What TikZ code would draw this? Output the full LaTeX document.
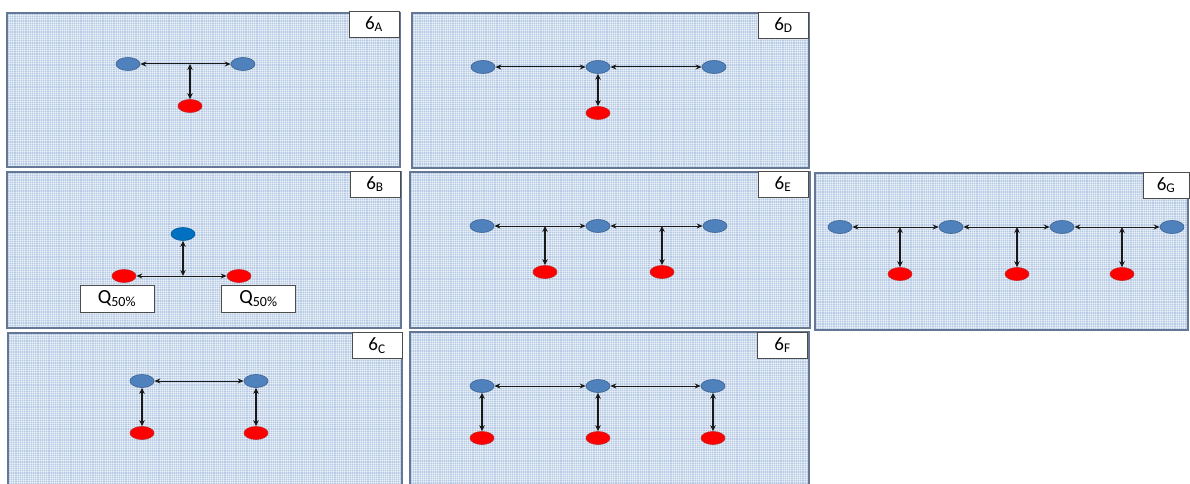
\documentclass[tikz,border=0pt]{standalone}
\usepackage{fontspec}
\setmainfont{Carlito}
\usetikzlibrary{arrows.meta,shapes.geometric}
\definecolor{bgblue}{RGB}{182,202,229}
\definecolor{framec}{RGB}{100,120,150}
\definecolor{nodeblue}{RGB}{79,129,189}
\definecolor{nodeblueb}{RGB}{58,97,144}
\definecolor{nodered}{RGB}{255,0,0}
\definecolor{noderedb}{RGB}{192,40,40}
\definecolor{darkblue}{RGB}{0,112,192}
\tikzset{
  gridtex/.style={draw=white, line width=0.45pt, opacity=0.45},
  bnode/.style={ellipse, minimum width=24pt, minimum height=13pt, inner sep=0pt, fill=nodeblue, draw=nodeblueb, line width=0.6pt},
  rnode/.style={ellipse, minimum width=24pt, minimum height=13pt, inner sep=0pt, fill=nodered, draw=noderedb, line width=0.6pt},
  dnode/.style={ellipse, minimum width=24pt, minimum height=13pt, inner sep=0pt, fill=darkblue, draw=darkblue!80!black, line width=0.6pt},
  lbl/.style={draw=black!70, fill=white, line width=0.8pt, minimum width=50pt, minimum height=26pt, inner sep=0pt, font=\fontsize{19}{19}\selectfont},
  qbox/.style={draw=black!70, fill=white, line width=0.8pt, minimum width=74pt, minimum height=27pt, inner sep=0pt, font=\fontsize{20}{20}\selectfont},
  harrow/.style={{Stealth[length=6pt,width=5pt]}-{Stealth[length=6pt,width=5pt]}, line width=1pt, draw=black!90},
  varrow/.style={{Stealth[length=6pt,width=5.5pt]}-{Stealth[length=6pt,width=5.5pt]}, line width=1.7pt, draw=black!90},
}
\begin{document}
\begin{tikzpicture}[x=1pt,y=-1pt]
\useasboundingbox (0,0) rectangle (1190,484);
\begin{scope}
\clip (0,0) rectangle (1190,484);
% panels
\foreach \xa/\ya/\xb/\yb in {7/13/400/167, 412/13/809/168, 7/172/401/328, 410/172/810/328, 815/173/1188/330, 8/333/402/490, 410/332/809/490}{
  \fill[bgblue] (\xa,\ya) rectangle (\xb,\yb);
  \begin{scope}
    \clip (\xa,\ya) rectangle (\xb,\yb);
    \foreach \gx in {0,2.2,...,400} \draw[gridtex] (\xa+\gx,\ya) -- (\xa+\gx,\yb);
    \foreach \gy in {0,2.2,...,160} \draw[gridtex] (\xa,\ya+\gy) -- (\xb,\ya+\gy);
  \end{scope}
  \draw[draw=framec, line width=1.3pt] (\xa,\ya) rectangle (\xb,\yb);
}
\end{scope}

% ---------- Panel A ----------
\node[lbl] (la) at (374,24) {6\textsubscript{A}};
\node[bnode] (a1) at (128,64) {};
\node[bnode] (a2) at (243,64) {};
\node[rnode] (ar) at (190,106) {};
\coordinate (aj) at (190,64);
\draw[harrow] (a1) -- (a2);
\draw[varrow] (aj) -- (ar);

% ---------- Panel D ----------
\node[lbl] (ld) at (783.5,25) {6\textsubscript{D}};
\node[bnode] (d1) at (483,67) {};
\node[bnode] (d2) at (598,67) {};
\node[bnode] (d3) at (714,67) {};
\node[rnode] (dr) at (598,113) {};
\draw[harrow] (d1) -- (d2);
\draw[harrow] (d2) -- (d3);
\draw[varrow] (d2) -- (dr);

% ---------- Panel B ----------
\node[lbl] (lb) at (375,184) {6\textsubscript{B}};
\node[dnode] (b0) at (183,234) {};
\node[rnode] (b1) at (124,276) {};
\node[rnode] (b2) at (239,276) {};
\coordinate (bj) at (183,276);
\draw[harrow] (b1) -- (b2);
\draw[varrow] (bj) -- (b0);
\node[qbox] (ql) at (117,298.5) {Q\textsubscript{50\%}};
\node[qbox] (qr) at (258.5,298.5) {Q\textsubscript{50\%}};

% ---------- Panel E ----------
\node[lbl] (le) at (783,184) {6\textsubscript{E}};
\node[bnode] (e1) at (482,226) {};
\node[bnode] (e2) at (598,226) {};
\node[bnode] (e3) at (715,226) {};
\node[rnode] (er1) at (545,272) {};
\node[rnode] (er2) at (662,272) {};
\coordinate (ej1) at (545,226);
\coordinate (ej2) at (662,226);
\draw[harrow] (e1) -- (e2);
\draw[harrow] (e2) -- (e3);
\draw[varrow] (ej1) -- (er1);
\draw[varrow] (ej2) -- (er2);

% ---------- Panel G ----------
\node[lbl, minimum width=46pt] (lg) at (1166,185) {6\textsubscript{G}};
\node[bnode] (g1) at (840,227) {};
\node[bnode] (g2) at (951,227) {};
\node[bnode] (g3) at (1062,227) {};
\node[bnode] (g4) at (1172,227) {};
\node[rnode] (gr1) at (900,274) {};
\node[rnode] (gr2) at (1017,274) {};
\node[rnode] (gr3) at (1122,274) {};
\coordinate (gj1) at (900,227);
\coordinate (gj2) at (1017,227);
\coordinate (gj3) at (1122,227);
\draw[harrow] (g1) -- (g2);
\draw[harrow] (g2) -- (g3);
\draw[harrow] (g3) -- (g4);
\draw[varrow] (gj1) -- (gr1);
\draw[varrow] (gj2) -- (gr2);
\draw[varrow] (gj3) -- (gr3);

% ---------- Panel C ----------
\node[lbl] (lc) at (377,345.5) {6\textsubscript{C}};
\node[bnode] (c1) at (142,381) {};
\node[bnode] (c2) at (256,381) {};
\node[rnode] (cr1) at (142,433) {};
\node[rnode] (cr2) at (256,433) {};
\draw[harrow] (c1) -- (c2);
\draw[varrow] (c1) -- (cr1);
\draw[varrow] (c2) -- (cr2);

% ---------- Panel F ----------
\node[lbl] (lf) at (782.5,345) {6\textsubscript{F}};
\node[bnode] (f1) at (482,386) {};
\node[bnode] (f2) at (598,386) {};
\node[bnode] (f3) at (713,386) {};
\node[rnode] (fr1) at (482,438) {};
\node[rnode] (fr2) at (598,438) {};
\node[rnode] (fr3) at (713,438) {};
\draw[harrow] (f1) -- (f2);
\draw[harrow] (f2) -- (f3);
\draw[varrow] (f1) -- (fr1);
\draw[varrow] (f2) -- (fr2);
\draw[varrow] (f3) -- (fr3);
\end{tikzpicture}
\end{document}
